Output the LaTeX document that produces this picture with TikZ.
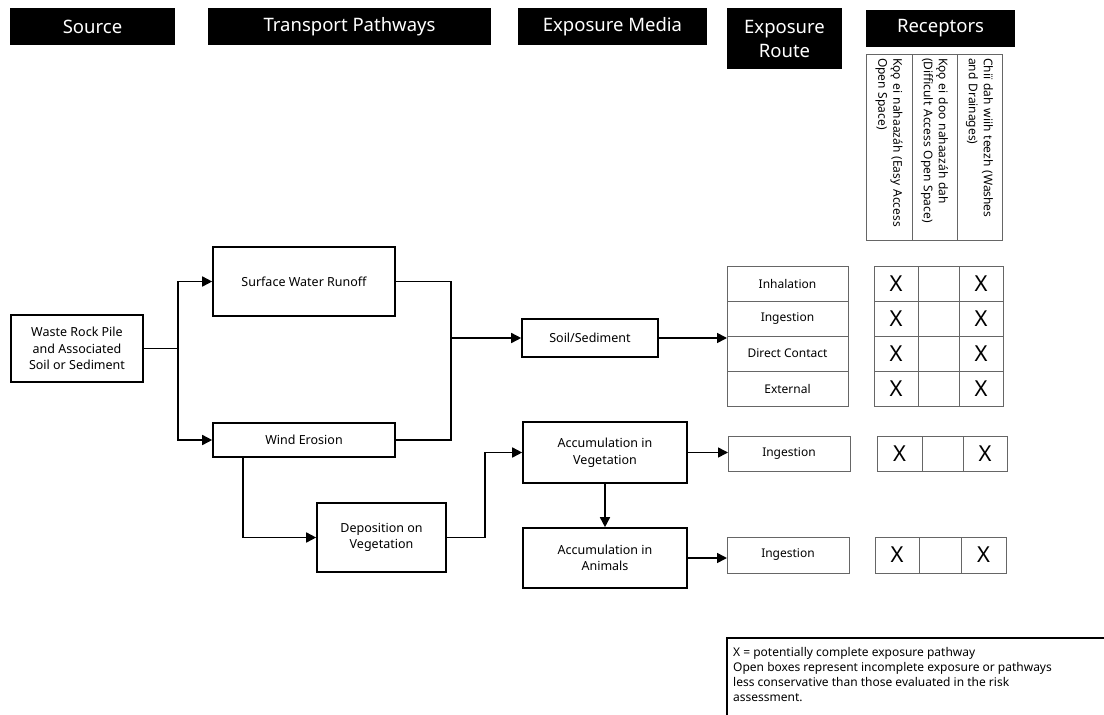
\documentclass[tikz,border=0pt]{standalone}
\usepackage{fontspec}
\setmainfont{Noto Sans}
\usetikzlibrary{positioning,arrows.meta}

\begin{document}
\begin{tikzpicture}[x=1pt,y=-1pt,
    hdr/.style={fill=black,text=white,align=center,inner sep=0pt,font=\fontsize{18.5}{24}\selectfont},
    box/.style={draw,line width=1.6pt,align=center,inner sep=0pt,font=\fontsize{12.5}{16.5}\selectfont},
    route/.style={draw=black!60,line width=0.8pt,inner sep=0pt,outer sep=0pt,minimum height=35pt,font=\fontsize{12}{14}\selectfont},
    xcell/.style={draw=black!60,line width=0.8pt,inner sep=0pt,outer sep=0pt,minimum height=35pt,font=\fontsize{22}{22}\selectfont},
    rcol/.style={draw=black!60,line width=0.8pt,rotate=-90,inner sep=0pt,outer sep=0pt,minimum width=186pt,text width=178pt,align=left,font=\fontsize{12}{15}\selectfont},
    link/.style={line width=1.6pt},
    flow/.style={line width=1.6pt,-{Triangle[length=10pt,width=10pt]}}]
  \useasboundingbox (0,0) rectangle (1104,715);

  % column headers
  \node[hdr,minimum width=165pt,minimum height=37pt] (h1) at (92.5,26.5) {Source};
  \node[hdr,minimum width=283pt,minimum height=37pt] (h2) at (349.5,26.5) {Transport Pathways};
  \node[hdr,minimum width=189pt,minimum height=37pt] (h3) at (612.5,26.5) {Exposure Media};
  \node[hdr,minimum width=115pt,minimum height=61pt] (h4) at (784.5,38.5) {Exposure\\Route};
  \node[hdr,minimum width=149pt,minimum height=37pt] (h5) at (940.5,28.5) {Receptors};

  % receptor columns
  \node[rcol,minimum height=46pt] (c1) at (889,147) {Kǫǫ ei nahaazáh (Easy Access\\Open Space)};
  \node[rcol,minimum height=45pt] (c2) at (934.5,147) {Kǫǫ ei doo nahaazáh dah\\(Difficult Access Open Space)};
  \node[rcol,minimum height=45pt] (c3) at (979.5,147) {Chiï dah wiih teezh (Washes\\and Drainages)};

  % source and pathways
  \node[box,minimum width=132pt,minimum height=67pt] (src) at (77,348.5) {Waste Rock Pile\\and Associated\\Soil or Sediment};
  \node[box,minimum width=182pt,minimum height=69pt] (swr) at (304,281.5) {Surface Water Runoff};
  \node[box,minimum width=182pt,minimum height=34pt] (we) at (304,440) {Wind Erosion};
  \node[box,minimum width=129pt,minimum height=69pt] (dep) at (381.5,537.5) {Deposition on\\Vegetation};
  \node[box,minimum width=136pt,minimum height=38pt] (soil) at (590,338) {Soil/Sediment};
  \node[box,minimum width=164pt,minimum height=61pt] (accv) at (605,452.5) {Accumulation in\\Vegetation};
  \node[box,minimum width=164pt,minimum height=60pt] (acca) at (605,558) {Accumulation in\\Animals};

  % exposure routes and receptor marks
  \foreach \n/\y/\t in {1/283.5/Inhalation,2/318.5/Ingestion,3/353.5/Direct Contact,4/388.5/External}{
    \node[route,minimum width=121pt] (r\n) at (787.5,\y) {\t};
    \node[xcell,minimum width=44pt] (x\n a) at (896,\y) {X};
    \node[xcell,minimum width=41pt,right=0pt of x\n a] (x\n b) {};
    \node[xcell,minimum width=44pt,right=0pt of x\n b] (x\n c) {X};
  }
  \node[route,minimum width=122pt] (r5) at (789,453.5) {Ingestion};
  \node[xcell,minimum width=45pt] (x5a) at (899.5,453.5) {X};
  \node[xcell,minimum width=41pt,right=0pt of x5a] (x5b) {};
  \node[xcell,minimum width=44pt,right=0pt of x5b] (x5c) {X};
  \node[route,minimum width=122pt,minimum height=36pt] (r6) at (788,555) {Ingestion};
  \node[xcell,minimum width=44pt,minimum height=36pt] (x6a) at (897,555) {X};
  \node[xcell,minimum width=42pt,minimum height=36pt,right=0pt of x6a] (x6b) {};
  \node[xcell,minimum width=45pt,minimum height=36pt,right=0pt of x6b] (x6c) {X};

  % connectors
  \coordinate (j1) at (178,348.5);
  \coordinate (j2) at (451,338);
  \draw[link] (src.east) -- (j1);
  \draw[flow] (j1) |- (swr.west);
  \draw[flow] (j1) |- (we.west);
  \draw[link] (swr.east) -| (j2);
  \draw[link] (we.east) -| (j2);
  \draw[flow] (j2) -- (soil.west);
  \draw[flow] (soil.east) -- (soil.east -| r2.west);
  \draw[flow] ([xshift=-61pt]we.south) |- (dep.west);
  \draw[flow] (dep.east) -- ++(38,0) |- (accv.west);
  \draw[flow] (accv.south) -- (acca.north);
  \draw[flow] (accv.east) -- (accv.east -| r5.west);
  \draw[flow] (acca.east) -- (acca.east -| r6.west);

  % legend
  \draw[line width=1.4pt] (727,715) |- (1104,638);
  \node[anchor=north west,align=left,inner sep=0pt,font=\fontsize{12}{15}\selectfont] (leg) at (733,647)
    {X = potentially complete exposure pathway\\Open boxes represent incomplete exposure or pathways\\less conservative than those evaluated in the risk\\assessment.};
\end{tikzpicture}
\end{document}
